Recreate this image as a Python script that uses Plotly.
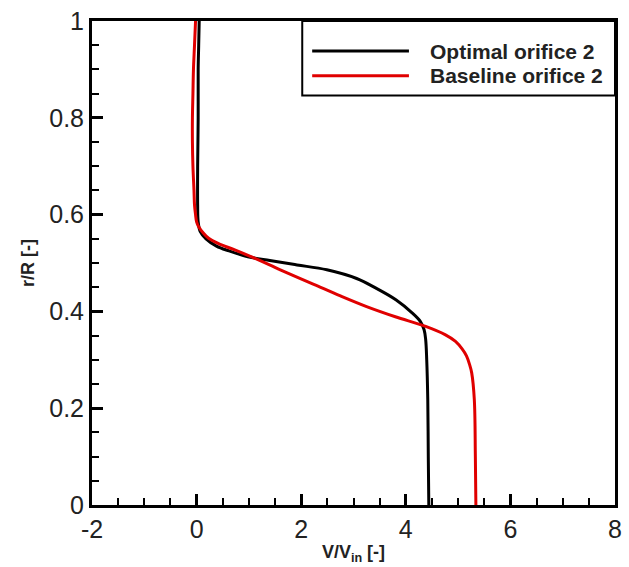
import plotly.graph_objects as go

# Radial velocity profiles: r/R against V/V_in
optimal_v = [0.05, 0.04, 0.03, 0.03, 0.02, 0.02, 0.03, 0.07, 0.18, 0.38, 0.62, 0.98, 1.4,
             1.92, 2.49, 3.06, 3.43, 3.81, 4.12, 4.28, 4.35, 4.38, 4.40, 4.42, 4.43, 4.44]
optimal_r = [1.0, 0.95, 0.9, 0.8, 0.7, 0.62, 0.585, 0.565, 0.55, 0.535, 0.525, 0.513, 0.505,
             0.496, 0.486, 0.468, 0.448, 0.424, 0.397, 0.379, 0.362, 0.342, 0.30, 0.218,
             0.1, 0.0]

baseline_v = [-0.02, -0.04, -0.06, -0.07, -0.08, -0.08, -0.07, -0.05, -0.04, -0.02, 0.0, 0.04,
              0.12, 0.23, 0.42, 0.73, 1.15, 1.6, 2.24, 2.75, 3.25, 3.8, 4.38, 4.75, 4.95,
              5.08, 5.16, 5.22, 5.26, 5.31, 5.33, 5.34]
baseline_r = [1.0, 0.95, 0.9, 0.85, 0.8, 0.75, 0.7, 0.65, 0.62, 0.6, 0.585, 0.575, 0.563,
              0.551, 0.54, 0.527, 0.508, 0.486, 0.456, 0.432, 0.41, 0.389, 0.369, 0.352, 0.338,
              0.322, 0.308, 0.29, 0.273, 0.218, 0.1, 0.0]

series_names = ["Optimal orifice 2", "Baseline orifice 2"]
series_colors = ["#000000", "#e00000"]

x_ticks = [-2, 0, 2, 4, 6, 8]
x_tick_text = ["-2", "0", "2", "4", "6", "8"]
y_ticks = [0, 0.2, 0.4, 0.6, 0.8, 1]
y_tick_text = ["0", "0.2", "0.4", "0.6", "0.8", "1"]

fig = go.Figure()
for xs, ys, name, color in [(optimal_v, optimal_r, series_names[0], series_colors[0]),
                            (baseline_v, baseline_r, series_names[1], series_colors[1])]:
    fig.add_trace(go.Scatter(
        x=xs, y=ys, mode="lines", name=name, showlegend=False,
        line=dict(color=color, width=3, shape="spline", smoothing=1.0),
    ))

tick_font = dict(family="Liberation Sans, Arial, sans-serif", size=25, color="#222222")
title_font = dict(family="Liberation Sans, Arial, sans-serif", size=18, color="#222222")

fig.update_xaxes(
    range=[-2, 8], tickvals=x_ticks, ticktext=x_tick_text, ticks="inside", ticklen=11,
    tickwidth=3, tickcolor="black", showline=True, linewidth=3, linecolor="black",
    mirror=True, showgrid=False, zeroline=False, tickfont=tick_font,
    minor=dict(dtick=0.5, ticks="inside", ticklen=7, tickwidth=2, tickcolor="black"),
    title=dict(text="<b>V/V<sub>in</sub> [-]</b>", font=title_font, standoff=4),
)
fig.update_yaxes(
    range=[0, 1], tickvals=y_ticks, ticktext=y_tick_text, ticks="inside", ticklen=11,
    tickwidth=3, tickcolor="black", showline=True, linewidth=3, linecolor="black",
    mirror=True, showgrid=False, zeroline=False, tickfont=tick_font,
    minor=dict(dtick=0.05, ticks="inside", ticklen=7, tickwidth=2, tickcolor="black"),
    title=dict(text="<b>r/R [-]</b>", font=title_font, standoff=10),
)

# Legend box drawn in the upper right corner of the frame
legend_font = dict(family="Liberation Sans, Arial, sans-serif", size=21, color="#222222")
fig.add_shape(type="rect", xref="paper", yref="paper", x0=0.402, x1=1.0, y0=0.846, y1=1.0,
              line=dict(color="black", width=2), fillcolor="white", layer="above")
for yrow, name, color in [(0.938, series_names[0], series_colors[0]),
                          (0.887, series_names[1], series_colors[1])]:
    fig.add_shape(type="line", xref="paper", yref="paper", x0=0.421, x1=0.606,
                  y0=yrow, y1=yrow, line=dict(color=color, width=3), layer="above")
    fig.add_annotation(xref="paper", yref="paper", x=0.642, y=yrow, xanchor="left",
                       yanchor="middle", text=f"<b>{name}</b>", showarrow=False,
                       font=legend_font)

fig.update_layout(
    width=629, height=567,
    margin=dict(l=92, r=7, t=20, b=61),
    plot_bgcolor="white", paper_bgcolor="white",
)

fig.write_html("out.html")
